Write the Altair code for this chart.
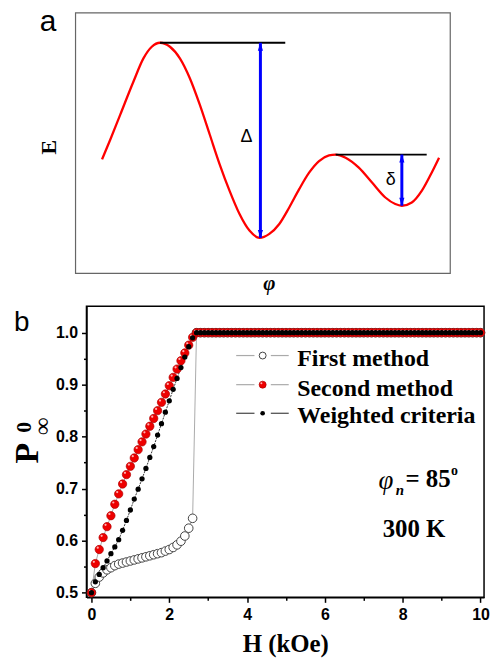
import altair as alt
import pandas as pd

# ---------------- panel a : schematic energy landscape E(phi), arbitrary units
phi = [26.7, 35, 45, 58.3, 68.3, 76.7, 85, 95, 105, 115, 125, 135, 145, 155, 165,
       175, 185, 195, 205, 215, 225, 235, 245, 255, 261.7, 271.7, 285, 298.3,
       311.7, 321.7, 328.3, 338.3, 348.3, 358.3, 365.7]
energy = [114.7, 134.7, 159.7, 193, 216.3, 228, 232, 228, 216.3, 196.3, 169.7,
          139.7, 109.7, 83, 59.7, 43, 35.7, 39.7, 49.7, 66.3, 84.7, 101.3, 113,
          118.7, 119.5, 116.3, 106.3, 91.3, 76.3, 69.7, 68, 71.3, 83, 101.3, 116.3]
level_start = [85, 261.7]
level_end = [211, 353.3]
level_E = [232, 119.5]
arrow_phi = [186, 328.3]
arrow_top = [232, 119.5]
arrow_bottom = [35.7, 68]
barrier_labels = ["Δ", "δ"]
barrier_label_phi = [172, 317]
barrier_label_E = [137, 94]

# ---------------- panel b : P_inf^0 versus H
H_rise = [0.0, 0.1, 0.2, 0.3, 0.4, 0.5, 0.6, 0.7, 0.8, 0.9, 1.0, 1.1, 1.2, 1.3,
          1.4, 1.5, 1.6, 1.7, 1.8, 1.9, 2.0, 2.1, 2.2, 2.3, 2.4, 2.5, 2.6]
first_rise = [0.500, 0.518, 0.530, 0.538, 0.544, 0.548, 0.552, 0.555, 0.557,
              0.559, 0.561, 0.563, 0.565, 0.567, 0.569, 0.571, 0.573, 0.575,
              0.577, 0.580, 0.583, 0.587, 0.592, 0.599, 0.609, 0.624, 0.643]
second_rise = [0.500, 0.556, 0.583, 0.606, 0.627, 0.648, 0.670, 0.690, 0.709,
               0.727, 0.743, 0.759, 0.775, 0.790, 0.805, 0.820, 0.835, 0.850,
               0.866, 0.882, 0.898, 0.914, 0.930, 0.946, 0.961, 0.976, 0.991]
weighted_rise = [0.500, 0.521, 0.535, 0.548, 0.561, 0.575, 0.588, 0.602, 0.620,
                 0.639, 0.659, 0.680, 0.699, 0.719, 0.739, 0.760, 0.781, 0.803,
                 0.825, 0.847, 0.869, 0.891, 0.912, 0.933, 0.953, 0.973, 0.990]
H_flat = [2.7, 2.8, 2.9, 3.0, 3.1, 3.2, 3.3, 3.4, 3.5, 3.6, 3.7, 3.8, 3.9, 4.0,
          4.1, 4.2, 4.3, 4.4, 4.5, 4.6, 4.7, 4.8, 4.9, 5.0, 5.1, 5.2, 5.3, 5.4,
          5.5, 5.6, 5.7, 5.8, 5.9, 6.0, 6.1, 6.2, 6.3, 6.4, 6.5, 6.6, 6.7, 6.8,
          6.9, 7.0, 7.1, 7.2, 7.3, 7.4, 7.5, 7.6, 7.7, 7.8, 7.9, 8.0, 8.1, 8.2,
          8.3, 8.4, 8.5, 8.6, 8.7, 8.8, 8.9, 9.0, 9.1, 9.2, 9.3, 9.4, 9.5, 9.6,
          9.7, 9.8, 9.9, 10.0]
flat_value = 1.0
legend_labels = ["First method", "Second method", "Weighted criteria"]
x_tick_values = [0, 1, 2, 3, 4, 5, 6, 7, 8, 9, 10]
y_tick_values = [0.5, 0.55, 0.6, 0.65, 0.7, 0.75, 0.8, 0.85, 0.9, 0.95, 1.0]

SERIF = "Liberation Serif"
SANS = "Liberation Sans"

# ================= top chart =================
# the plot area of panel a shares its left edge with panel b; its frame reaches 11 px further left
sx_a = alt.Scale(domain=[11, 377], nice=False, zero=False)
sy_a = alt.Scale(domain=[0, 262], nice=False, zero=False)

curve_df = pd.DataFrame({"phi": phi, "E": energy})
level_df = pd.DataFrame({"phi": level_start, "phi2": level_end, "E": level_E})
arrow_df = pd.DataFrame({"phi": arrow_phi, "E": arrow_bottom, "E2": arrow_top})
head_up_df = pd.DataFrame({"phi": arrow_phi, "E": arrow_top})
head_dn_df = pd.DataFrame({"phi": arrow_phi, "E": arrow_bottom})
blab_df = pd.DataFrame({"phi": barrier_label_phi, "E": barrier_label_E, "t": barrier_labels})

ax = alt.X("phi:Q", scale=sx_a, axis=None)
ay = alt.Y("E:Q", scale=sy_a, axis=None)

frame_a = alt.Chart().mark_rect(fillOpacity=0, stroke="#666666", strokeWidth=1.2).encode(
    x=alt.value(-11), x2=alt.value(366), y=alt.value(0), y2=alt.value(262))
curve = alt.Chart(curve_df).mark_line(color="#ff0000", strokeWidth=2.3, interpolate="monotone").encode(x=ax, y=ay)
levels = alt.Chart(level_df).mark_rule(color="black", strokeWidth=1.8).encode(x=ax, x2="phi2:Q", y=ay)
arrows = alt.Chart(arrow_df).mark_rule(color="#0000ff", strokeWidth=3).encode(x=ax, y=ay, y2="E2:Q")
UP = "M0,-1L0.65,1L-0.65,1Z"
DN = "M0,1L0.65,-1L-0.65,-1Z"
heads_up = alt.Chart(head_up_df).mark_point(shape=UP, filled=True, color="#0000ff", size=64, opacity=1, yOffset=4).encode(x=ax, y=ay)
heads_dn = alt.Chart(head_dn_df).mark_point(shape=DN, filled=True, color="#0000ff", size=64, opacity=1, yOffset=-4).encode(x=ax, y=ay)
blabels = alt.Chart(blab_df).mark_text(font=SANS, fontSize=18, color="black", align="center", baseline="middle").encode(x=ax, y=ay, text="t:N")

a_label = alt.Chart().mark_text(text="a", font=SANS, fontSize=30, align="left", baseline="alphabetic", color="black").encode(
    x=alt.value(-47), y=alt.value(18))
e_label = alt.Chart().mark_text(text="E", font=SERIF, fontSize=22, fontWeight="bold", angle=270, align="center",
                                baseline="middle", color="black").encode(x=alt.value(-37.5), y=alt.value(135))
phi_label = alt.Chart().mark_text(text="φ", font=SERIF, fontSize=21, fontWeight="bold", fontStyle="italic",
                                  align="center", baseline="middle", color="black").encode(x=alt.value(184), y=alt.value(273))
# invisible rules that fix the panel's outer extent (top / bottom edge)
edge_t_a = alt.Chart().mark_rule(opacity=0).encode(x=alt.value(0), x2=alt.value(1), y=alt.value(-11))
edge_b_a = alt.Chart().mark_rule(opacity=0).encode(x=alt.value(0), x2=alt.value(1), y=alt.value(284))

top = alt.layer(frame_a, curve, levels, arrows, heads_up, heads_dn, blabels, a_label, e_label, phi_label,
                edge_t_a, edge_b_a).properties(
    width=366, height=262, view=alt.ViewBackground(strokeWidth=0, stroke="white", fill="white"))

# ================= bottom chart =================
first_df = pd.DataFrame({"H": H_rise + H_flat, "P": first_rise + [flat_value] * len(H_flat)})
second_df = pd.DataFrame({"H": H_rise + H_flat, "P": second_rise + [flat_value] * len(H_flat)})
weighted_df = pd.DataFrame({"H": H_rise + H_flat, "P": weighted_rise + [flat_value] * len(H_flat)})

sx_b = alt.Scale(domain=[-0.128, 10.09], nice=False, zero=False)
sy_b = alt.Scale(domain=[0.491, 1.051], nice=False, zero=False)

x_axis = alt.Axis(values=x_tick_values, format="d",
                  labelExpr="datum.value % 2 == 0 ? datum.label : ''",
                  labelFont=SANS, labelFontSize=16, labelFontWeight="bold", labelColor="black",
                  labelPadding=4, labelFlush=False, labelOverlap=False,
                  tickColor="black", tickWidth=1.5,
                  tickSize={"condition": {"test": "datum.value % 2 == 0", "value": 5}, "value": 3},
                  domainColor="black", domainWidth=1.5, grid=False,
                  title="H (kOe)", titleFont=SERIF, titleFontSize=25, titleFontWeight="bold",
                  titleColor="black", titlePadding=9)
y_axis = alt.Axis(values=y_tick_values, format=".1f",
                  labelExpr="round(datum.value * 100) % 10 == 0 ? datum.label : ''",
                  labelFont=SANS, labelFontSize=16, labelFontWeight="bold", labelColor="black",
                  labelPadding=4, labelFlush=False, labelOverlap=False,
                  tickColor="black", tickWidth=1.5,
                  tickSize={"condition": {"test": "round(datum.value * 100) % 10 == 0", "value": 5}, "value": 3},
                  domainColor="black", domainWidth=1.5, grid=False, title=None)

bx = alt.X("H:Q", scale=sx_b, axis=x_axis)
by = alt.Y("P:Q", scale=sy_b, axis=y_axis)

line_first = alt.Chart(first_df).mark_line(color="#aaaaaa", strokeWidth=1).encode(x=bx, y=by)
line_second = alt.Chart(second_df).mark_line(color="#aaaaaa", strokeWidth=1).encode(x=bx, y=by)
line_weighted = alt.Chart(weighted_df).mark_line(color="#333333", strokeWidth=1, strokeDash=[2, 1]).encode(x=bx, y=by)
pts_first = alt.Chart(first_df).mark_circle(fill="white", stroke="#444444", strokeWidth=1, size=75, opacity=1).encode(x=bx, y=by)
pts_second = alt.Chart(second_df).mark_circle(fill="#ee0000", stroke="#b00000", strokeWidth=0.7, size=70, opacity=1).encode(x=bx, y=by)
pts_second_hl = alt.Chart(second_df).mark_circle(color="#ffb0b0", size=5, opacity=1, xOffset=-1.5, yOffset=-1.8).encode(x=bx, y=by)
pts_weighted = alt.Chart(weighted_df).mark_circle(color="black", size=28, opacity=1).encode(x=bx, y=by)

# ---- legend (drawn by hand, placed in data space)
leg_text_P = [0.9367, 0.879, 0.826]
leg_sym_P = [0.956, 0.900, 0.845]
leg_line_colors = ["#aaaaaa", "#aaaaaa", "#444444"]
leg_seg = pd.DataFrame({
    "H": [3.72, 4.61] * 3, "H2": [4.19, 5.07] * 3,
    "P": [leg_sym_P[0]] * 2 + [leg_sym_P[1]] * 2 + [leg_sym_P[2]] * 2,
    "c": [leg_line_colors[0]] * 2 + [leg_line_colors[1]] * 2 + [leg_line_colors[2]] * 2,
})
leg_lines = alt.Chart(leg_seg).mark_rule(strokeWidth=1.2).encode(
    x=bx, x2="H2:Q", y=by, color=alt.Color("c:N", scale=None))
leg_first = alt.Chart(pd.DataFrame({"H": [4.40], "P": [leg_sym_P[0]]})).mark_circle(
    fill="white", stroke="#444444", strokeWidth=1, size=48, opacity=1).encode(x=bx, y=by)
leg_second = alt.Chart(pd.DataFrame({"H": [4.40], "P": [leg_sym_P[1]]})).mark_circle(
    fill="#ee0000", stroke="#b00000", strokeWidth=0.7, size=50, opacity=1).encode(x=bx, y=by)
leg_second_hl = alt.Chart(pd.DataFrame({"H": [4.40], "P": [leg_sym_P[1]]})).mark_circle(
    color="#ffb0b0", size=4, opacity=1, xOffset=-1.3, yOffset=-1.5).encode(x=bx, y=by)
leg_weighted = alt.Chart(pd.DataFrame({"H": [4.40], "P": [leg_sym_P[2]]})).mark_circle(
    color="black", size=22, opacity=1).encode(x=bx, y=by)
leg_text = alt.Chart(pd.DataFrame({"H": [5.29] * 3, "P": leg_text_P, "t": legend_labels})).mark_text(
    font=SERIF, fontSize=24, fontWeight="bold", color="black", align="left", baseline="alphabetic").encode(
    x=bx, y=by, text="t:N")

# ---- annotations
ann_phi = alt.Chart(pd.DataFrame({"H": [7.57], "P": [0.715]})).mark_text(
    text="φ", font=SERIF, fontSize=27, fontStyle="italic", color="black", align="center", baseline="middle").encode(x=bx, y=by)
ann_n = alt.Chart(pd.DataFrame({"H": [7.93], "P": [0.698]})).mark_text(
    text="n", font=SERIF, fontSize=15, fontStyle="italic", fontWeight="bold", color="black", align="center", baseline="middle").encode(x=bx, y=by)
ann_85 = alt.Chart(pd.DataFrame({"H": [8.07], "P": [0.703]})).mark_text(
    text="= 85", font=SERIF, fontSize=25, fontWeight="bold", color="black", align="left", baseline="alphabetic").encode(x=bx, y=by)
ann_deg = alt.Chart(pd.DataFrame({"H": [9.33], "P": [0.733]})).mark_text(
    text="o", font=SERIF, fontSize=14, fontWeight="bold", color="black", align="center", baseline="middle").encode(x=bx, y=by)
ann_T = alt.Chart(pd.DataFrame({"H": [8.29], "P": [0.608]})).mark_text(
    text="300 K", font=SERIF, fontSize=25, fontWeight="bold", color="black", align="center", baseline="alphabetic").encode(x=bx, y=by)

# ---- y title P with superscript 0 and subscript infinity
p_main = alt.Chart().mark_text(text="P", font=SERIF, fontSize=34, fontWeight="bold", angle=270, align="center",
                               baseline="middle", color="black").encode(x=alt.value(-59), y=alt.value(148))
p_sup = alt.Chart().mark_text(text="0", font=SERIF, fontSize=22, fontWeight="bold", angle=270, align="center",
                              baseline="middle", color="black").encode(x=alt.value(-63), y=alt.value(122))
p_sub = alt.Chart().mark_text(text="∞", font=SERIF, fontSize=24, fontWeight="bold", angle=270, align="center",
                              baseline="middle", color="black").encode(x=alt.value(-43.5), y=alt.value(121))
b_label = alt.Chart().mark_text(text="b", font=SANS, fontSize=28, align="left", baseline="alphabetic",
                                color="black").encode(x=alt.value(-73), y=alt.value(25))
edge_l_b = alt.Chart().mark_rule(opacity=0).encode(x=alt.value(-86), y=alt.value(0), y2=alt.value(1))
edge_t_b = alt.Chart().mark_rule(opacity=0).encode(x=alt.value(0), x2=alt.value(1), y=alt.value(-10))

bottom = alt.layer(
    line_first, line_second, line_weighted, pts_first, pts_second, pts_second_hl, pts_weighted,
    leg_lines, leg_first, leg_second, leg_second_hl, leg_weighted, leg_text,
    ann_phi, ann_n, ann_85, ann_deg, ann_T, p_main, p_sup, p_sub, b_label, edge_l_b, edge_t_b
).properties(width=400, height=293, view=alt.ViewBackground(stroke="black", strokeWidth=1.5, fill="white"))

chart = alt.vconcat(top, bottom, spacing=0).properties(
    padding={"left": 0, "top": 0, "right": 0, "bottom": 0}
).configure(background="white")

chart.save("out.html", embed_options={"renderer": "svg", "actions": False})
